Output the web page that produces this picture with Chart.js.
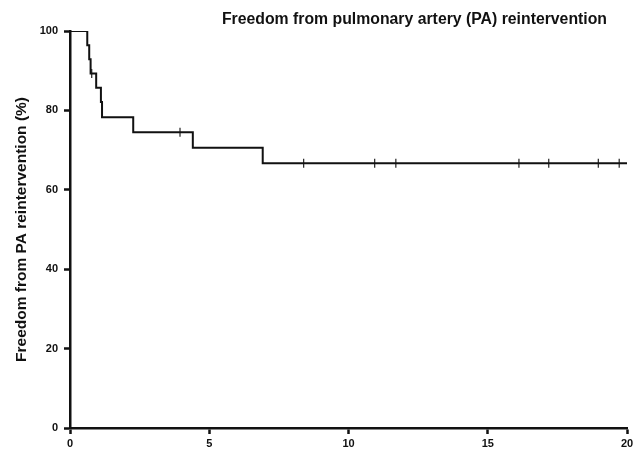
<!DOCTYPE html>
<html>
<head>
<meta charset="utf-8">
<script src="https://cdn.jsdelivr.net/npm/chart.js@4.4.1/dist/chart.umd.min.js"></script>
<style>
  html, body { margin: 0; padding: 0; background: #fff; }
  #wrap { width: 633px; height: 449px; position: relative; }
</style>
</head>
<body>
<div id="wrap"><canvas id="kmChart" width="633" height="449"></canvas></div>
<script>
// Kaplan-Meier steps (years, % free from reintervention)
const eventYears = [0, 0.62, 0.69, 0.74, 0.94, 1.11, 1.15, 2.27, 4.41, 6.92, 20];
const freedomPct = [100, 96.4, 92.9, 89.3, 85.7, 82.1, 78.3, 74.5, 70.6, 66.7, 66.7];

// censored patients
const censorYears = [0.78, 3.95, 8.39, 10.94, 11.70, 16.12, 17.19, 18.97, 19.72];
const censorPct = [89.3, 74.5, 66.7, 66.7, 66.7, 66.7, 66.7, 66.7, 66.7];

const xTicks = [0, 5, 10, 15, 20];
const yTicks = [0, 20, 40, 60, 80, 100];

const chartTitle = "Freedom from pulmonary artery (PA) reintervention";
const yAxisTitle = "Freedom from PA reintervention (%)";

const tickFont = { family: "'Liberation Sans Narrow', 'Liberation Sans', Arial, sans-serif", size: 11, weight: "bold" };

// title sits inside the plot, top right
const titlePlugin = {
  id: "innerTitle",
  afterDraw(chart) {
    const ctx = chart.ctx;
    ctx.save();
    ctx.font = "bold 15.8px 'Liberation Sans', Arial, sans-serif";
    ctx.fillStyle = "#111";
    ctx.textAlign = "right";
    ctx.textBaseline = "middle";
    ctx.fillText(chartTitle, chart.chartArea.right - 20, 20);
    ctx.restore();
  },
};

const kmData = eventYears.map((t, i) => ({ x: t, y: freedomPct[i] }));
const censorData = censorYears.map((t, i) => ({ x: t, y: censorPct[i] }));

new Chart(document.getElementById("kmChart"), {
  type: "scatter",
  data: {
    datasets: [
      {
        label: "KM",
        data: kmData,
        showLine: true,
        stepped: "before",
        borderColor: "#111",
        borderWidth: 2,
        pointRadius: 0,
        fill: false,
      },
      {
        label: "Censored",
        data: censorData,
        showLine: false,
        pointStyle: "line",
        rotation: 90,
        pointRadius: 4.5,
        borderColor: "#222",
        borderWidth: 1.2,
        backgroundColor: "#222",
      },
    ],
  },
  options: {
    responsive: false,
    animation: false,
    layout: { padding: { top: 31, right: 0, left: 0, bottom: 0 } },
    plugins: {
      legend: { display: false },
      tooltip: { enabled: false },
    },
    scales: {
      x: {
        type: "linear",
        min: 0,
        max: 20,
        afterBuildTicks: (scale) => { scale.ticks = xTicks.map((v) => ({ value: v })); },
        afterFit: (scale) => {
          scale.height = 21;
          scale.paddingRight = 6;
        },
        grid: {
          drawOnChartArea: false,
          drawTicks: true,
          tickLength: 6,
          tickWidth: 2.5,
          tickColor: "#111",
        },
        border: { display: true, color: "#111", width: 2.5 },
        ticks: { color: "#111", font: tickFont, padding: 3, maxRotation: 0 },
      },
      y: {
        type: "linear",
        min: 0,
        max: 100,
        afterBuildTicks: (scale) => { scale.ticks = yTicks.map((v) => ({ value: v })); },
        afterFit: (scale) => { scale.width = 70; },
        grid: {
          drawOnChartArea: false,
          drawTicks: true,
          tickLength: 6,
          tickWidth: 2.5,
          tickColor: "#111",
        },
        border: { display: true, color: "#111", width: 2.5 },
        ticks: { color: "#111", font: tickFont, padding: 6 },
        title: {
          display: true,
          text: yAxisTitle,
          color: "#111",
          font: { family: "'Liberation Sans', Arial, sans-serif", size: 15.5, weight: "bold" },
          padding: { top: 12, bottom: 0 },
        },
      },
    },
  },
  plugins: [titlePlugin],
});
</script>
</body>
</html>
